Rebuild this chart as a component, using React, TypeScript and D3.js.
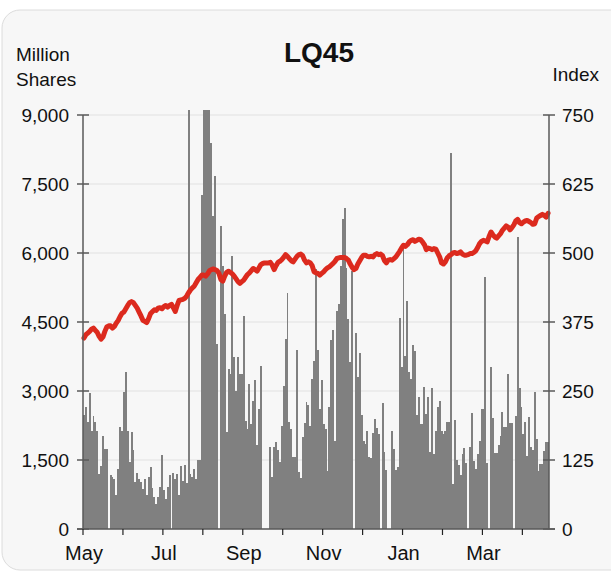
import React from "react";
import * as d3 from "d3";

// Daily traded volume (million shares), one value per trading day
const volume: number[] = [
  2470, 2660, 2320, 2950, 2140, 2450, 2320, 2140, 1200, 1360, 2030, 1740, 1750, 0, 1180, 1140, 1090, 730, 1310, 2210,
  2140, 2980, 3410, 2140, 1450, 2100, 1710, 1020, 1210, 1090, 1020, 870, 1090, 740, 1130, 1340, 900, 700, 540, 690,
  910, 1600, 840, 650, 910, 1180, 0, 1210, 1090, 1200, 730, 1360, 1050, 1400, 1000, 9500, 1200, 1140, 1310, 1090,
  1500, 1500, 7260, 9500, 9500, 9500, 9500, 8400, 6800, 7670, 4030, 0, 6590, 5720, 4680, 2100, 3480, 3380, 5930, 3740,
  3010, 3740, 3380, 3360, 4620, 2340, 2180, 3160, 2290, 2790, 3250, 1820, 2600, 3540, 0, 0, 0, 0, 1790, 1130,
  1790, 1900, 1710, 1450, 2230, 3100, 4120, 5140, 2320, 2180, 1560, 1560, 3900, 1230, 1100, 2000, 2310, 2760, 2690, 2250,
  3270, 3660, 5660, 3900, 2610, 3240, 2290, 2180, 1260, 2660, 4100, 4330, 1910, 4730, 4890, 5720, 6730, 6970, 5680, 4570,
  3630, 5610, 0, 4270, 3300, 3830, 2470, 1920, 1850, 2130, 1560, 1540, 2080, 2400, 2200, 2070, 0, 2740, 1670, 1290,
  0, 0, 2140, 1730, 1290, 1340, 4590, 3520, 6100, 3770, 4950, 3410, 3270, 3990, 3870, 2480, 2870, 2290, 2290, 3085,
  2500, 2870, 1670, 3070, 1630, 2140, 2650, 2790, 2140, 2070, 2130, 2320, 2320, 8170, 980, 2370, 1490, 1400, 1180, 1630,
  1760, 1430, 0, 1780, 2520, 1470, 1310, 1620, 1910, 2610, 2610, 5470, 1430, 0, 3520, 2420, 1650, 1650, 1820, 2030,
  2540, 2210, 2210, 3360, 2310, 2310, 0, 2450, 6350, 3070, 2660, 2070, 2320, 1580, 2430, 1780, 1720, 2980, 1960, 1270,
  1420, 1420, 1690, 1890, 1890,
];

// LQ45 index close, one value per trading day
const indexClose: number[] = [
  346, 352, 355, 358, 362, 364, 360, 356, 349, 344, 348, 358, 366, 368, 368, 364, 367, 373, 378, 385,
  391, 393, 399, 405, 410, 412, 410, 405, 400, 393, 386, 378, 376, 374, 381, 390, 394, 397, 396, 400,
  401, 399, 403, 405, 402, 405, 407, 401, 394, 405, 414, 415, 416, 418, 422, 428, 433, 437, 440, 446,
  452, 456, 460, 460, 458, 462, 468, 470, 471, 470, 468, 463, 452, 449, 458, 465, 467, 465, 462, 458,
  453, 448, 445, 448, 451, 456, 461, 464, 468, 472, 470, 467, 473, 479, 481, 482, 482, 482, 483, 478,
  470, 477, 483, 485, 488, 492, 497, 494, 490, 486, 484, 489, 494, 497, 498, 495, 487, 482, 484, 482,
  477, 466, 464, 463, 460, 463, 466, 470, 473, 475, 478, 481, 485, 490, 491, 492, 492, 492, 490, 487,
  480, 474, 470, 472, 480, 486, 492, 496, 496, 494, 493, 494, 493, 497, 499, 497, 498, 495, 486, 482,
  487, 488, 487, 490, 493, 498, 503, 509, 514, 512, 515, 520, 523, 524, 521, 523, 525, 524, 520, 515,
  506, 509, 508, 506, 508, 507, 500, 493, 482, 480, 484, 491, 495, 497, 500, 501, 499, 500, 502, 498,
  496, 496, 497, 499, 499, 501, 504, 510, 517, 521, 523, 522, 520, 530, 538, 533, 529, 527, 531, 535,
  541, 545, 549, 547, 542, 546, 551, 558, 561, 555, 553, 556, 558, 559, 557, 555, 552, 553, 563, 566,
  568, 570, 568, 565, 572,
];

// first trading day of each month (index into the daily arrays)
const monthTickIndex: number[] = [0, 21, 42, 63, 84, 105, 126, 147, 168, 189, 210, 231];
const monthLabels: string[] = ["May", "", "Jul", "", "Sep", "", "Nov", "", "Jan", "", "Mar", ""];

const volumeTicks: number[] = [0, 1500, 3000, 4500, 6000, 7500, 9000];
const indexTicks: number[] = [0, 125, 250, 375, 500, 625, 750];

const W = 611;
const H = 574;
const L = 83;
const R = 549;
const T = 115;
const B = 529;
const FONT = "'Liberation Sans', Arial, Helvetica, sans-serif";

export default function App() {
  const N = volume.length;
  const x = d3.scaleLinear().domain([0, N]).range([L, R]);
  const yV = d3.scaleLinear().domain([0, 9000]).range([B, T]);
  const yI = d3.scaleLinear().domain([0, 750]).range([B, T]);
  const bw = x(1) - x(0);

  const line = d3
    .line<number>()
    .x((_, i) => x(i + 0.5))
    .y((d) => yI(d));

  const axisColor = "#5a5a5a";

  return (
    <svg
      width={W}
      height={H}
      style={{ position: "absolute", left: 0, top: 0 }}
      fontFamily={FONT}
    >
      <defs>
        <clipPath id="plotClip">
          <rect x={L} y={110} width={R - L} height={B - 110} />
        </clipPath>
      </defs>
      <rect x={2} y={10} width={640} height={560} rx={18} ry={18} fill="#f7f7f7" stroke="#dcdcdc" strokeWidth={1} />

      {/* gridlines */}
      {volumeTicks.map((t) => (
        <line key={"g" + t} x1={L} x2={R} y1={yV(t)} y2={yV(t)} stroke="#e1e1e1" strokeWidth={1} />
      ))}

      {/* bars */}
      <g clipPath="url(#plotClip)" shapeRendering="crispEdges">
        {volume.map((v, i) =>
          v > 0 ? (
            <rect key={i} x={x(i)} y={yV(v)} width={bw + 0.05} height={B - yV(v)} fill="#808080" />
          ) : null
        )}
      </g>

      {/* index line */}
      <path
        d={line(indexClose) || ""}
        fill="none"
        stroke="#dc2a1e"
        strokeWidth={5}
        strokeLinejoin="round"
        strokeLinecap="round"
      />

      {/* left axis */}
      <line x1={L} x2={L} y1={T} y2={B} stroke={axisColor} strokeWidth={1.5} />
      {volumeTicks.map((t) => (
        <g key={"lt" + t}>
          <line x1={L - 6} x2={L + 6} y1={yV(t)} y2={yV(t)} stroke={axisColor} strokeWidth={1.5} />
          <text x={69} y={yV(t)} dy="0.35em" textAnchor="end" fontSize={19} fill="#111">
            {d3.format(",")(t)}
          </text>
        </g>
      ))}

      {/* right axis */}
      <line x1={R} x2={R} y1={T} y2={B} stroke={axisColor} strokeWidth={1.5} />
      {indexTicks.map((t) => (
        <g key={"rt" + t}>
          <line x1={R - 6} x2={R + 6} y1={yI(t)} y2={yI(t)} stroke={axisColor} strokeWidth={1.5} />
          <text x={562} y={yI(t)} dy="0.35em" textAnchor="start" fontSize={19} fill="#111">
            {t}
          </text>
        </g>
      ))}

      {/* bottom axis */}
      <line x1={L - 6} x2={R + 6} y1={B} y2={B} stroke={axisColor} strokeWidth={1.5} />
      {monthTickIndex.map((mi, k) => (
        <g key={"bt" + k}>
          <line x1={x(mi)} x2={x(mi)} y1={B} y2={B + 6} stroke="#222" strokeWidth={1.2} />
          {monthLabels[k] ? (
            <text x={x(mi) + 1} y={560} textAnchor="middle" fontSize={20} fill="#111">
              {monthLabels[k]}
            </text>
          ) : null}
        </g>
      ))}

      {/* titles */}
      <text x={319} y={62} textAnchor="middle" fontSize={28} fontWeight="bold" fill="#111">
        LQ45
      </text>
      <text x={16} y={61} fontSize={19} fill="#111">
        Million
      </text>
      <text x={16} y={86} fontSize={19} fill="#111">
        Shares
      </text>
      <text x={599} y={81} textAnchor="end" fontSize={19} fill="#111">
        Index
      </text>
    </svg>
  );
}
